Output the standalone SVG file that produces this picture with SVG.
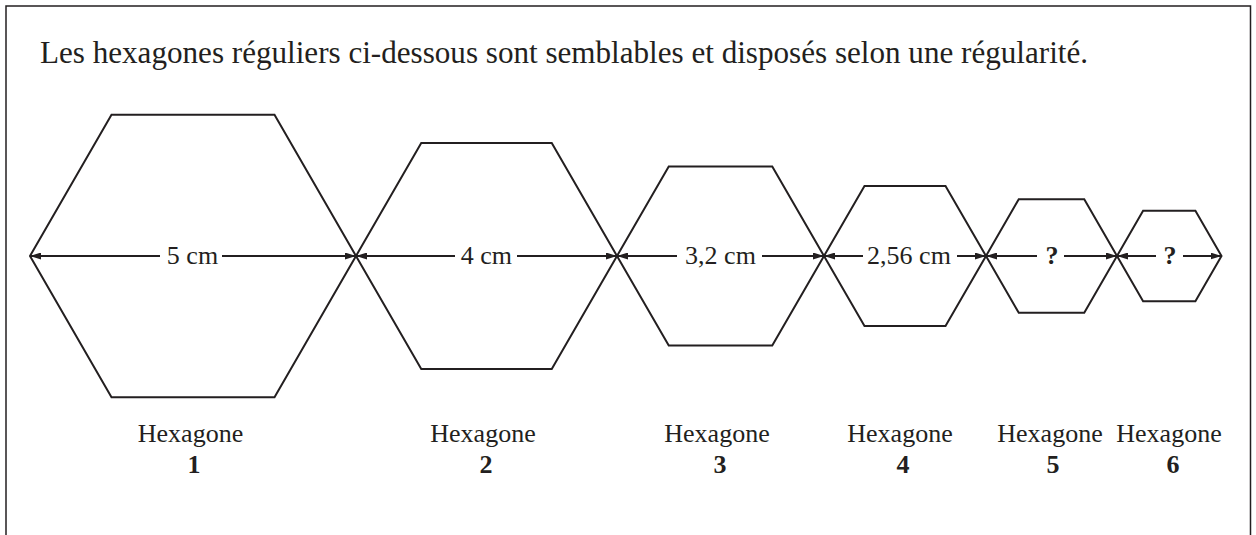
<svg xmlns="http://www.w3.org/2000/svg" width="1256" height="535" viewBox="0 0 1256 535">
<style>
.hex{fill:none;stroke:#231f20;stroke-width:2;stroke-linejoin:miter}
.dim{fill:none;stroke:#231f20;stroke-width:2}
text{font-family:'Liberation Serif','Times New Roman',serif;fill:#231f20}
.lbl{font-size:26px;text-anchor:middle}
.num{font-size:26px;font-weight:bold;text-anchor:middle}
</style>
<defs>
<marker id="ah" viewBox="0 0 11 7" refX="11" refY="3.5" markerWidth="11" markerHeight="7" markerUnits="userSpaceOnUse" orient="auto-start-reverse">
<path d="M0,0 L11,3.5 L0,7 z" fill="#231f20"/>
</marker>
</defs>
<rect x="0" y="0" width="1256" height="535" fill="#fff"/>
<path d="M6,545 V6 H1250.5 V545" fill="none" stroke="#231f20" stroke-width="1.5"/>
<text x="40" y="63" font-size="32" textLength="1048" lengthAdjust="spacingAndGlyphs">Les hexagones réguliers ci-dessous sont semblables et disposés selon une régularité.</text>

<g id="hex1">
<polygon class="hex" points="30,256 111.5,114.8 274.5,114.8 356,256 274.5,397.2 111.5,397.2"/>
<text class="lbl" x="190.5" y="442">Hexagone</text>
<text class="num" x="194" y="473">1</text>
</g>
<g id="hex2">
<polygon class="hex" points="356,256 421.25,143 551.75,143 617,256 551.75,369 421.25,369"/>
<text class="lbl" x="483" y="442">Hexagone</text>
<text class="num" x="486" y="473">2</text>
</g>
<g id="hex3">
<polygon class="hex" points="617,256 668.75,166.4 772.25,166.4 824,256 772.25,345.6 668.75,345.6"/>
<text class="lbl" x="717" y="442">Hexagone</text>
<text class="num" x="720" y="473">3</text>
</g>
<g id="hex4">
<polygon class="hex" points="824,256 864.5,185.9 945.5,185.9 986,256 945.5,326.1 864.5,326.1"/>
<text class="lbl" x="900" y="442">Hexagone</text>
<text class="num" x="903" y="473">4</text>
</g>
<g id="hex5">
<polygon class="hex" points="986,256 1018.75,199.3 1084.25,199.3 1117,256 1084.25,312.7 1018.75,312.7"/>
<text class="lbl" x="1050" y="442">Hexagone</text>
<text class="num" x="1053" y="473">5</text>
</g>
<g id="hex6">
<polygon class="hex" points="1117,256 1143.1,210.75 1195.4,210.75 1221.5,256 1195.4,301.25 1143.1,301.25"/>
<text class="lbl" x="1169" y="442">Hexagone</text>
<text class="num" x="1173" y="473">6</text>
</g>

<g id="connectors">
<path class="dim" d="M160,256 H30" marker-end="url(#ah)"/>
<path class="dim" d="M222,256 H356" marker-end="url(#ah)"/>
<path class="dim" d="M455,256 H356" marker-end="url(#ah)"/>
<path class="dim" d="M517,256 H617" marker-end="url(#ah)"/>
<path class="dim" d="M677,256 H617" marker-end="url(#ah)"/>
<path class="dim" d="M762,256 H824" marker-end="url(#ah)"/>
<path class="dim" d="M863,256 H824" marker-end="url(#ah)"/>
<path class="dim" d="M957,256 H986" marker-end="url(#ah)"/>
<path class="dim" d="M1037,256 H986" marker-end="url(#ah)"/>
<path class="dim" d="M1064,256 H1117" marker-end="url(#ah)"/>
<path class="dim" d="M1156,256 H1117" marker-end="url(#ah)"/>
<path class="dim" d="M1183,256 H1221.5" marker-end="url(#ah)"/>
<text class="lbl" x="192.5" y="264">5 cm</text>
<text class="lbl" x="486.3" y="264">4 cm</text>
<text class="lbl" x="720.5" y="264">3,2 cm</text>
<text class="lbl" x="909" y="264">2,56 cm</text>
<text class="num" x="1052" y="264">?</text>
<text class="num" x="1170" y="264">?</text>
</g>
</svg>
